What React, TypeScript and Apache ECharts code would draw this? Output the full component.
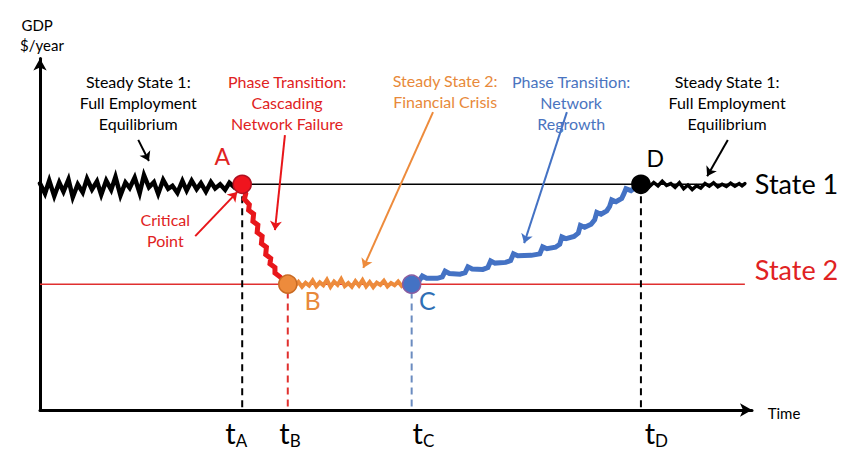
import React, { useEffect, useRef } from "react";
import * as echarts from "echarts";

// ---- data (time, GDP) in arbitrary units ----
const STATE1 = 61;
const STATE2 = 34;
const T_A = 28.4;
const T_B = 34.8;
const T_C = 52.2;
const T_D = 84.4;
const LINE_END = 99;

const steadyLeftX = [0, 0.7, 1.3, 2.0, 2.7, 3.3, 4.0, 4.6, 5.3, 6.0, 6.6, 7.3, 8.0, 8.6, 9.3, 10.0, 10.6, 11.3, 12.0, 12.6, 13.3, 14.0, 14.6, 15.3, 16.0, 16.6, 17.3, 18.0, 18.6, 19.3, 20.0, 20.6, 21.3, 22.0, 22.6, 23.3, 24.0, 24.6, 25.3, 26.0, 26.6, 27.3, 28.0, 28.4];
const steadyLeftY = [61.2, 58.5, 62.0, 57.8, 61.5, 59.0, 62.3, 57.5, 61.0, 58.8, 62.5, 59.6, 61.8, 58.2, 62.0, 59.5, 63.0, 58.0, 61.5, 60.0, 62.8, 58.6, 63.5, 60.2, 61.6, 58.4, 62.2, 59.8, 60.6, 58.7, 61.9, 59.3, 62.0, 59.7, 61.3, 59.0, 61.6, 59.9, 61.0, 59.5, 61.4, 60.2, 61.2, 61.0];

const collapseX = [28.4, 28.9, 28.7, 29.4, 29.3, 30.0, 29.9, 30.6, 30.5, 31.2, 31.1, 31.8, 31.7, 32.4, 32.3, 33.0, 33.0, 33.7, 34.2, 34.8];
const collapseY = [61, 58.5, 57.0, 55.5, 54.0, 53.0, 51.0, 50.0, 48.0, 47.0, 45.0, 44.0, 42.0, 41.0, 39.5, 38.5, 37.0, 36.0, 35.0, 34.0];

const crisisX = [34.8, 35.3, 35.8, 36.3, 36.8, 37.3, 37.8, 38.3, 38.8, 39.3, 39.8, 40.3, 40.8, 41.3, 41.8, 42.3, 42.8, 43.3, 43.8, 44.3, 44.8, 45.3, 45.8, 46.3, 46.8, 47.3, 47.8, 48.3, 48.8, 49.3, 49.8, 50.3, 50.8, 51.3, 51.8, 52.2];
const crisisY = [34.0, 34.8, 33.5, 34.6, 33.3, 34.4, 33.6, 35.0, 33.4, 34.5, 33.7, 35.2, 33.3, 34.7, 33.8, 35.4, 33.5, 34.3, 33.3, 34.8, 33.6, 35.1, 33.4, 34.6, 33.2, 34.4, 33.8, 34.9, 33.4, 34.3, 33.7, 34.7, 33.5, 34.2, 33.9, 34.0];

const regrowthX = [52.2, 53.2, 53.7, 54.3, 55.8, 56.5, 56.9, 57.5, 59.0, 59.7, 60.1, 60.7, 62.2, 62.9, 63.3, 63.9, 65.4, 66.1, 66.5, 67.1, 69.0, 70.2, 70.6, 71.2, 72.4, 73.0, 73.3, 73.9, 75.0, 75.6, 75.9, 76.5, 77.4, 77.9, 78.2, 78.8, 79.6, 80.0, 80.3, 80.9, 81.7, 82.0, 82.3, 83.0, 83.7, 84.4];
const regrowthY = [34.0, 34.8, 36.2, 35.6, 35.6, 36.0, 37.5, 36.9, 36.7, 37.1, 38.7, 38.1, 38.0, 38.5, 40.3, 39.7, 39.9, 40.4, 42.2, 41.7, 41.8, 42.2, 44.1, 43.6, 44.0, 44.8, 46.8, 46.3, 46.9, 47.8, 49.9, 49.4, 50.2, 51.4, 53.4, 52.9, 53.8, 55.0, 56.8, 56.3, 57.2, 58.4, 59.8, 59.3, 60.2, 61.0];

const steadyRightX = [84.4, 85.0, 85.6, 86.2, 86.8, 87.4, 88.0, 88.6, 89.2, 89.8, 90.4, 91.0, 91.6, 92.2, 92.8, 93.4, 94.0, 94.6, 95.2, 95.8, 96.4, 97.0, 97.6, 98.2, 98.6, 99.0];
const steadyRightY = [61.0, 61.6, 60.4, 61.5, 60.6, 61.8, 60.7, 61.2, 60.2, 61.4, 59.8, 60.8, 59.6, 60.6, 60.0, 61.2, 60.5, 61.4, 60.3, 61.0, 60.4, 61.3, 60.5, 61.2, 60.6, 61.2];

const pointNames = ["A", "B", "C", "D"];
const pointX = [T_A, T_B, T_C, T_D];
const pointY = [STATE1, STATE2, STATE2, STATE1];

const tickNames = ["A", "B", "C", "D"];
const tickLabelX = [27.2, 34.8, 53.5, 86.1];

const zip = (xs: number[], ys: number[]) => xs.map((x, i) => [x, ys[i]]);

// ---- styling ----
const FONT = "Lato";
const RED = "#E8161A";
const ORANGE = "#ED8B3C";
const BLUE = "#4472C4";
const RED_TXT = "#E02222";
const ORANGE_TXT = "#E8893A";
const BLUE_TXT = "#4A74C0";

// annotation arrows [from, to]
const arrows = [
  { from: [13.8, 73.0], to: [15.3, 67.3], color: "#000" },
  { from: [21.8, 47.0], to: [27.7, 58.9], color: RED },
  { from: [34.4, 74.3], to: [33.0, 48.6], color: RED },
  { from: [55.2, 80.5], to: [45.4, 38.4], color: ORANGE },
  { from: [74.0, 80.5], to: [68.0, 45.1], color: BLUE },
  { from: [96.6, 73.0], to: [93.7, 63.2], color: "#000" },
];

const notes = [
  { text: "Steady State 1:\nFull Employment\nEquilibrium", at: [13.8, 83.2], color: "#000", size: 16, lh: 21, align: "center" },
  { text: "Phase Transition:\nCascading\nNetwork Failure", at: [34.7, 83.2], color: RED_TXT, size: 16, lh: 21, align: "center" },
  { text: "Steady State 2:\nFinancial Crisis", at: [56.9, 86.2], color: ORANGE_TXT, size: 16, lh: 21, align: "center" },
  { text: "Phase Transition:\nNetwork\nRegrowth", at: [74.6, 83.2], color: BLUE_TXT, size: 16, lh: 21, align: "center" },
  { text: "Steady State 1:\nFull Employment\nEquilibrium", at: [96.5, 83.2], color: "#000", size: 16, lh: 21, align: "center" },
  { text: "Critical\nPoint", at: [17.6, 48.6], color: RED_TXT, size: 16, lh: 21, align: "center" },
  { text: "A", at: [25.6, 68.6], color: RED_TXT, size: 23, lh: 26, align: "center" },
  { text: "B", at: [38.3, 29.7], color: ORANGE_TXT, size: 25, lh: 28, align: "center" },
  { text: "C", at: [54.4, 29.7], color: "#2F6FB5", size: 25, lh: 28, align: "center" },
  { text: "D", at: [86.4, 68.1], color: "#000", size: 23, lh: 26, align: "center" },
  { text: "State 1", at: [100.4, 61.1], color: "#000", size: 27, lh: 30, align: "left" },
  { text: "State 2", at: [100.4, 38.1], color: RED_TXT, size: 27, lh: 30, align: "left" },
  { text: "Time", at: [102.2, -0.8], color: "#000", size: 15, lh: 18, align: "left" },
  { text: "GDP", at: [-2.6, 104.1], color: "#000", size: 15, lh: 18, align: "left" },
  { text: "$/year", at: [-2.8, 98.6], color: "#000", size: 15, lh: 18, align: "left" },
];

export default function App() {
  const ref = useRef<HTMLDivElement>(null);
  useEffect(() => {
    if (!ref.current) return;
    const chart = echarts.init(ref.current, null, { renderer: "svg" });
    const noisy = (name: string, xs: number[], ys: number[], color: string, width: number) => ({
      name,
      type: "line",
      data: zip(xs, ys),
      showSymbol: false,
      symbol: "none",
      z: 4,
      lineStyle: { color, width, join: "miter", cap: "round", opacity: 1 },
    });
    const vline = (x: number, y: number, color: string) => ({
      type: "line",
      data: [[x, y], [x, 0]],
      symbol: "none",
      z: 2,
      lineStyle: { color, width: 2, type: [7, 5] },
    });
    chart.setOption({
      animation: false,
      backgroundColor: "#fff",
      grid: { left: 40, right: 112, top: 58.5, bottom: 58 },
      xAxis: {
        type: "value",
        min: 0,
        max: 100,
        axisLine: { show: true, symbol: ["none", "arrow"], symbolSize: [10, 12], lineStyle: { color: "#000", width: 3 } },
        axisTick: { show: false },
        axisLabel: { show: false },
        splitLine: { show: false },
      },
      yAxis: {
        type: "value",
        min: 0,
        max: 95,
        axisLine: { show: true, symbol: ["none", "arrow"], symbolSize: [10, 12], lineStyle: { color: "#000", width: 3 } },
        axisTick: { show: false },
        axisLabel: { show: false },
        splitLine: { show: false },
      },
      series: [
        { type: "line", data: [[T_A, STATE1], [LINE_END, STATE1]], symbol: "none", z: 1, lineStyle: { color: "#000", width: 1.5 } },
        { type: "line", data: [[0, STATE2], [LINE_END, STATE2]], symbol: "none", z: 1, lineStyle: { color: "#E03030", width: 1.5 } },
        vline(T_A, STATE1, "#000"),
        vline(T_B, STATE2 - 2, "#E0302E"),
        vline(T_C, STATE2 - 2, "#6B8CC0"),
        vline(T_D, STATE1, "#000"),
        noisy("steady1", steadyLeftX, steadyLeftY, "#000", 4.5),
        noisy("collapse", collapseX, collapseY, RED, 5),
        noisy("crisis", crisisX, crisisY, ORANGE, 4),
        noisy("regrowth", regrowthX, regrowthY, BLUE, 5),
        noisy("steady1b", steadyRightX, steadyRightY, "#000", 3.5),
        {
          type: "lines",
          coordinateSystem: "cartesian2d",
          symbol: ["none", "arrow"],
          symbolSize: 9,
          z: 6,
          data: arrows.map((a) => ({ coords: [a.from, a.to], lineStyle: { color: a.color, width: 2, opacity: 1 } })),
        },
        {
          type: "scatter",
          z: 8,
          symbolSize: 18,
          data: pointNames.map((n, i) => {
            const colors = [
              ["#F0141E", "#B01020"],
              ["#ED8B3C", "#C96A22"],
              ["#4472C4", "#8A5CA0"],
              ["#000000", "#000000"],
            ][i];
            return { name: n, value: [pointX[i], pointY[i]], itemStyle: { color: colors[0], borderColor: colors[1], borderWidth: 1.5, opacity: 1 } };
          }),
        },
      ],
    });

    const px = (p: number[]) => chart.convertToPixel({ gridIndex: 0 }, p) as number[];
    const graphics: any[] = [];
    notes.forEach((n) => {
      const [x, y] = px(n.at);
      graphics.push({
        type: "text",
        x,
        y,
        z: 10,
        style: {
          text: n.text,
          fill: n.color,
          fontSize: n.size,
          fontFamily: FONT,
          lineHeight: n.lh,
          align: n.align,
          textAlign: n.align,
          verticalAlign: "middle",
          textVerticalAlign: "middle",
        },
      });
    });
    tickNames.forEach((name, i) => {
      const [x, y] = px([tickLabelX[i], -6.2]);
      graphics.push({
        type: "text",
        x: x + 2,
        y,
        z: 10,
        style: { text: "t", fill: "#000", fontSize: 29, fontFamily: FONT, align: "right", textAlign: "right", verticalAlign: "middle", textVerticalAlign: "middle" },
      });
      graphics.push({
        type: "text",
        x: x + 2,
        y: y + 8,
        z: 10,
        style: { text: name, fill: "#000", fontSize: 17, fontFamily: FONT, align: "left", textAlign: "left", verticalAlign: "middle", textVerticalAlign: "middle" },
      });
    });
    chart.setOption({ graphic: graphics });
    return () => chart.dispose();
  }, []);
  return <div ref={ref} style={{ position: "fixed", left: 0, top: 0, width: 864, height: 468 }} />;
}
